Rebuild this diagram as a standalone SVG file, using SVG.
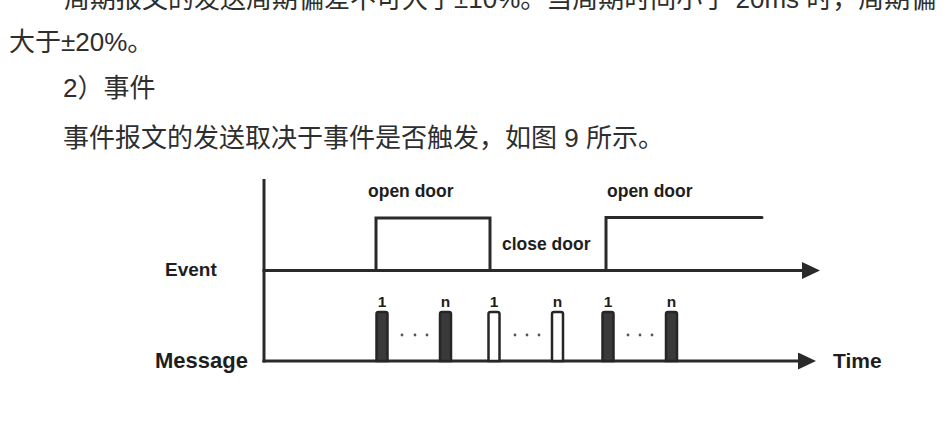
<svg xmlns="http://www.w3.org/2000/svg" width="949" height="421" viewBox="0 0 949 421">
  <style>
    .body { font-family: "Liberation Sans", "Noto Sans CJK SC", sans-serif; font-size: 26px; fill: #2e2e2e; }
    .lbl { font-family: "Liberation Sans", Arial, sans-serif; font-weight: bold; fill: #1e1e1e; }
    .ax { stroke: #2a2a2a; stroke-width: 3; fill: none; }
    .sig { stroke: #2a2a2a; stroke-width: 3; fill: none; stroke-linejoin: miter; }
    .barF { fill: #3a3a3a; stroke: #262626; stroke-width: 2.5; }
    .barH { fill: #ffffff; stroke: #262626; stroke-width: 2.5; }
    .dot { fill: #555555; }
  </style>
  <defs>
    <marker id="arr" markerUnits="userSpaceOnUse" viewBox="0 0 18 17" markerWidth="18" markerHeight="17" refX="2" refY="8.5" orient="auto">
      <path d="M0,0 L18,8.5 L0,17 z" fill="#2a2a2a"/>
    </marker>
  </defs>
  <rect width="949" height="421" fill="#ffffff"/>

  <g id="text-block">
    <text class="body" x="64" y="8">周期报文的发送周期偏差不可大于±10%。当周期时间小于 20ms 时，周期偏</text>
    <text class="body" x="9" y="51">大于±20%。</text>
    <text class="body" x="63" y="97">2）事件</text>
    <text class="body" x="63" y="147">事件报文的发送取决于事件是否触发，如图 9 所示。</text>
  </g>

  <g id="connectors">
    <line class="ax" x1="264" y1="179" x2="264" y2="362.5"/>
    <line class="ax" x1="262.5" y1="270.5" x2="804" y2="270.5" marker-end="url(#arr)"/>
    <line class="ax" x1="262.5" y1="361" x2="800" y2="361" marker-end="url(#arr)"/>
  </g>

  <g id="axis-labels">
    <text class="lbl" x="165" y="276" font-size="19">Event</text>
    <text class="lbl" x="155" y="368" font-size="22">Message</text>
    <text class="lbl" x="833" y="368" font-size="21">Time</text>
  </g>

  <g id="event-signal">
    <path class="sig" d="M376,270.5 V218 H490 V270.5"/>
    <path class="sig" d="M606,270.5 V217.5 H762" stroke-linecap="round"/>
    <text class="lbl" x="368" y="197" font-size="17.5">open door</text>
    <text class="lbl" x="502" y="250" font-size="17.5">close door</text>
    <text class="lbl" x="607" y="197" font-size="17.5">open door</text>
  </g>

  <g id="messages">
    <g id="burst-1">
      <path class="barF" d="M376.5,361 V314 Q376.5,312 378.5,312 H385.5 Q387.5,312 387.5,314 V361 z"/>
      <path class="barF" d="M440,361 V314 Q440,312 442,312 H449 Q451,312 451,314 V361 z"/>
      <text class="lbl" x="382" y="307" font-size="15.5" text-anchor="middle">1</text>
      <text class="lbl" x="445.5" y="307" font-size="15.5" text-anchor="middle">n</text>
      <circle class="dot" cx="402" cy="335" r="1.4"/>
      <circle class="dot" cx="415" cy="335" r="1.4"/>
      <circle class="dot" cx="427" cy="335" r="1.4"/>
    </g>
    <g id="burst-2">
      <path class="barH" d="M488.5,361 V314 Q488.5,312 490.5,312 H497.5 Q499.5,312 499.5,314 V361 z"/>
      <path class="barH" d="M552,361 V314 Q552,312 554,312 H561 Q563,312 563,314 V361 z"/>
      <text class="lbl" x="494" y="307" font-size="15.5" text-anchor="middle">1</text>
      <text class="lbl" x="557.5" y="307" font-size="15.5" text-anchor="middle">n</text>
      <circle class="dot" cx="515" cy="335" r="1.4"/>
      <circle class="dot" cx="527" cy="335" r="1.4"/>
      <circle class="dot" cx="539" cy="335" r="1.4"/>
    </g>
    <g id="burst-3">
      <path class="barF" d="M602.5,361 V314 Q602.5,312 604.5,312 H611.5 Q613.5,312 613.5,314 V361 z"/>
      <path class="barF" d="M666,361 V314 Q666,312 668,312 H675 Q677,312 677,314 V361 z"/>
      <text class="lbl" x="608" y="307" font-size="15.5" text-anchor="middle">1</text>
      <text class="lbl" x="671.5" y="307" font-size="15.5" text-anchor="middle">n</text>
      <circle class="dot" cx="628" cy="335" r="1.4"/>
      <circle class="dot" cx="640" cy="335" r="1.4"/>
      <circle class="dot" cx="652" cy="335" r="1.4"/>
    </g>
  </g>
</svg>
